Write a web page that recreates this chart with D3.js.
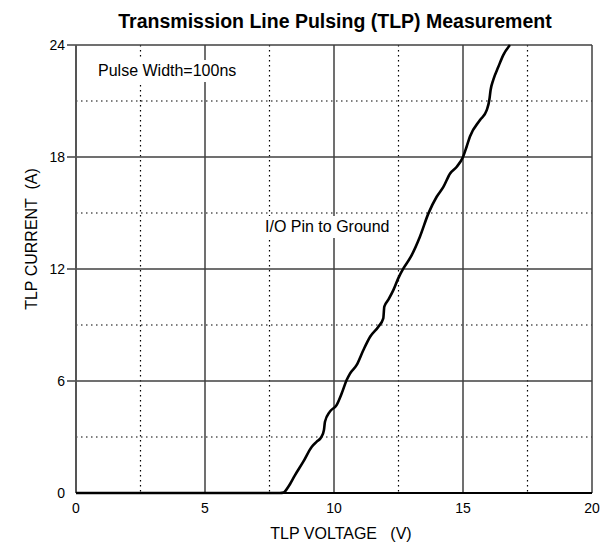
<!DOCTYPE html>
<html>
<head>
<meta charset="utf-8">
<script src="https://cdn.jsdelivr.net/npm/d3@7/dist/d3.min.js"></script>
<style>
  html, body { margin: 0; padding: 0; background: #fff; }
  text { font-family: Arial, "Liberation Sans", sans-serif; fill: #000; }
</style>
</head>
<body>
<svg id="chart" width="601" height="544"></svg>
<script>
const voltage = [0, 7.9, 8.04, 8.23, 8.49, 8.81, 9.14, 9.33, 9.52, 9.61, 9.65, 9.84, 10.1, 10.3, 10.49, 10.62, 10.88, 11.14, 11.4, 11.72, 11.91, 11.95, 12.1, 12.3, 12.49, 12.69, 12.98, 13.33, 13.66, 13.98, 14.24, 14.5, 14.76, 15.0, 15.14, 15.27, 15.66, 15.92, 16.02, 16.07, 16.17, 16.37, 16.56, 16.82];
const current = [0, 0, 0.02, 0.34, 0.96, 1.68, 2.48, 2.75, 3.02, 3.37, 3.82, 4.36, 4.71, 5.34, 6.05, 6.4, 6.86, 7.66, 8.37, 8.91, 9.36, 9.98, 10.34, 10.87, 11.5, 12.03, 12.66, 13.73, 14.98, 15.87, 16.4, 17.12, 17.48, 18.0, 18.55, 19.1, 19.98, 20.51, 21.05, 21.59, 22.12, 22.83, 23.46, 24];
const xMajorTicks = [0, 5, 10, 15, 20];
const xMinorTicks = [2.5, 7.5, 12.5, 17.5];
const yMajorTicks = [0, 6, 12, 18, 24];
const yMinorTicks = [3, 9, 15, 21];
const titleText = "Transmission Line Pulsing (TLP) Measurement";
const xTitle = "TLP VOLTAGE   (V)";
const yTitle = "TLP CURRENT  (A)";
const annot1 = "Pulse Width=100ns";
const annot2 = "I/O Pin to Ground";

const L = 76, R = 592, T = 45, B = 493;
const svg = d3.select("#chart");
const x = d3.scaleLinear().domain([0, 20]).range([L, R]);
const y = d3.scaleLinear().domain([0, 24]).range([B, T]);

// minor dotted grid
svg.append("g").selectAll("line").data(xMinorTicks).join("line")
  .attr("x1", d => x(d)).attr("x2", d => x(d)).attr("y1", T).attr("y2", B)
  .attr("stroke", "#000").attr("stroke-width", 1.2).attr("stroke-dasharray", "1.5,3.5");
svg.append("g").selectAll("line").data(yMinorTicks).join("line")
  .attr("x1", L).attr("x2", R).attr("y1", d => y(d)).attr("y2", d => y(d))
  .attr("stroke", "#000").attr("stroke-width", 1.2).attr("stroke-dasharray", "1.5,3.5");

// major solid grid
svg.append("g").selectAll("line").data(xMajorTicks.filter(d => d > 0 && d < 20)).join("line")
  .attr("x1", d => x(d)).attr("x2", d => x(d)).attr("y1", T).attr("y2", B)
  .attr("stroke", "#404040").attr("stroke-width", 1.5);
svg.append("g").selectAll("line").data(yMajorTicks.filter(d => d > 0)).join("line")
  .attr("x1", L - 9).attr("x2", R).attr("y1", d => y(d)).attr("y2", d => y(d))
  .attr("stroke", "#404040").attr("stroke-width", 1.5);

// borders
svg.append("line").attr("x1", R).attr("x2", R).attr("y1", T).attr("y2", B)
  .attr("stroke", "#404040").attr("stroke-width", 1.5);
svg.append("line").attr("x1", L).attr("x2", L).attr("y1", T).attr("y2", B)
  .attr("stroke", "#555").attr("stroke-width", 2);
svg.append("line").attr("x1", L).attr("x2", R).attr("y1", B).attr("y2", B)
  .attr("stroke", "#000").attr("stroke-width", 2);

// tick labels
svg.append("g").selectAll("text").data(xMajorTicks).join("text")
  .attr("x", d => x(d)).attr("y", 513).attr("text-anchor", "middle")
  .attr("font-size", 14).text(d => d);
svg.append("g").selectAll("text").data(yMajorTicks).join("text")
  .attr("x", 65).attr("y", d => y(d) + 5).attr("text-anchor", "end")
  .attr("font-size", 14).text(d => d);

// annotations with white background boxes
function annot(tx, ty, str) {
  const g = svg.append("g");
  const rect = g.append("rect").attr("fill", "#fff");
  const t = g.append("text").attr("x", tx).attr("y", ty).attr("font-size", 16).text(str);
  const bb = t.node().getBBox();
  rect.attr("x", bb.x - 4).attr("y", bb.y - 2).attr("width", bb.width + 8).attr("height", bb.height + 5);
}
annot(98, 76, annot1);
annot(265, 232, annot2);

// curve
const pts = voltage.map((v, i) => [v, current[i]]);
svg.append("path").datum(pts)
  .attr("fill", "none").attr("stroke", "#000").attr("stroke-width", 2.6)
  .attr("stroke-linejoin", "round")
  .attr("d", d3.line().x(d => x(d[0])).y(d => y(d[1])).curve(d3.curveMonotoneX));

// titles
svg.append("text").attr("x", 335).attr("y", 28).attr("text-anchor", "middle")
  .attr("font-size", 19.5).attr("font-weight", "bold").text(titleText);
svg.append("text").attr("x", 341).attr("y", 539).attr("text-anchor", "middle")
  .attr("font-size", 16).style("white-space", "pre").text(xTitle);
svg.append("text").attr("transform", "translate(37,239) rotate(-90)")
  .attr("text-anchor", "middle").attr("font-size", 16).style("white-space", "pre").text(yTitle);
</script>
</body>
</html>
